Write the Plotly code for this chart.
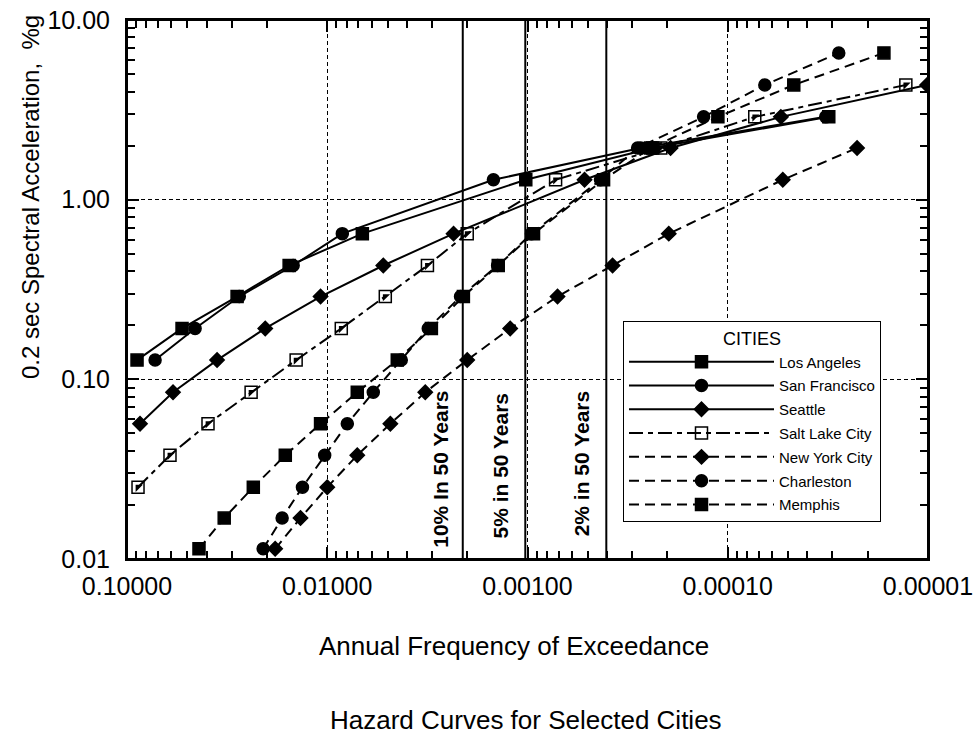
import math
import plotly.graph_objects as go

FONT = "Liberation Sans, Arial, Helvetica, sans-serif"

# ---------------- data (annual frequency of exceedance vs SA, %g) ----------------
la_freq = [0.0891, 0.0531, 0.0282, 0.0155, 0.00668, 0.00102, 0.000237, 0.0000313]
la_sa = [0.128, 0.192, 0.289, 0.430, 0.647, 1.29, 1.94, 2.89]

sf_freq = [0.0724, 0.0457, 0.0275, 0.0148, 0.00841, 0.00148, 0.000272, 0.0000324]
sf_sa = [0.128, 0.192, 0.289, 0.430, 0.647, 1.29, 1.94, 2.89]

sea_freq = [0.0861, 0.0589, 0.0355, 0.0204, 0.0108, 0.00525, 0.00234, 0.000519,
            0.000193, 0.0000543, 0.0000101]
sea_sa = [0.0566, 0.0847, 0.128, 0.192, 0.289, 0.430, 0.647, 1.29, 1.94, 2.89, 4.35]

slc_freq = [0.0881, 0.0610, 0.0394, 0.0240, 0.0143, 0.00851, 0.00513, 0.00316,
            0.00200, 0.000724, 0.000216, 0.0000733, 0.0000129]
slc_sa = [0.0251, 0.0378, 0.0566, 0.0847, 0.128, 0.192, 0.289, 0.430, 0.647,
          1.29, 1.94, 2.89, 4.35]

nyc_freq = [0.0182, 0.0136, 0.0100, 0.00708, 0.00484, 0.00324, 0.00200, 0.00122,
            0.000708, 0.000376, 0.000197, 0.0000531, 0.0000226]
nyc_sa = [0.0114, 0.0169, 0.0251, 0.0378, 0.0566, 0.0847, 0.128, 0.192, 0.289,
          0.430, 0.647, 1.29, 1.94]

chs_freq = [0.0209, 0.0168, 0.0133, 0.0103, 0.00794, 0.00589, 0.00427, 0.00313,
            0.00216, 0.00141, 0.000955, 0.000432, 0.000282, 0.000132, 0.0000653,
            0.0000279]
chs_sa = [0.0114, 0.0169, 0.0251, 0.0378, 0.0566, 0.0847, 0.128, 0.192, 0.289,
          0.430, 0.647, 1.29, 1.94, 2.89, 4.35, 6.56]

mem_freq = [0.0437, 0.0327, 0.0234, 0.0162, 0.0108, 0.00708, 0.00447, 0.00302,
            0.00209, 0.00140, 0.000933, 0.000417, 0.000243, 0.000112, 0.0000468,
            0.0000166]
mem_sa = [0.0114, 0.0169, 0.0251, 0.0378, 0.0566, 0.0847, 0.128, 0.192, 0.289,
          0.430, 0.647, 1.29, 1.94, 2.89, 4.35, 6.56]

return_periods = [475, 975, 2475]
rp_labels = ["10% In 50 Years", "5% in 50 Years", "2% in 50 Years"]

x_tickvals = [0.1, 0.01, 0.001, 0.0001, 0.00001]
x_ticktext = ["0.10000", "0.01000", "0.00100", "0.00010", "0.00001"]
y_tickvals = [0.01, 0.1, 1, 10]
y_ticktext = ["0.01", "0.10", "1.00", "10.00"]

# ---------------- figure ----------------
fig = go.Figure()

SOLID = "solid"
DASH = "10px,6px"
DASHDOT = "14px,5px,5px,5px"

series = [
    ("Los Angeles", la_freq, la_sa, SOLID, "square", 12),
    ("San Francisco", sf_freq, sf_sa, SOLID, "circle", 12),
    ("Seattle", sea_freq, sea_sa, SOLID, "diamond", 11),
    ("Salt Lake City", slc_freq, slc_sa, DASHDOT, "square-open", 12),
    ("New York City", nyc_freq, nyc_sa, DASH, "diamond", 11),
    ("Charleston", chs_freq, chs_sa, DASH, "circle", 12),
    ("Memphis", mem_freq, mem_sa, DASH, "square", 12),
]

for name, xs, ys, dash, sym, size in series:
    fig.add_trace(go.Scatter(
        x=xs, y=ys, name=name, mode="lines+markers",
        line=dict(color="black", width=2, dash=dash),
        marker=dict(symbol=sym, size=size, color="black",
                    line=dict(color="black", width=1.5)),
        legendgroup=name,
    ))
    if name == "Salt Lake City":
        # half-filled square look
        fig.add_trace(go.Scatter(
            x=xs, y=ys, mode="markers", showlegend=False, hoverinfo="skip",
            marker=dict(symbol="triangle-nw", size=8, color="black",
                        line=dict(width=0)),
        ))

# return-period vertical lines
for rp in return_periods:
    fig.add_trace(go.Scatter(
        x=[1 / rp, 1 / rp], y=[0.01, 10], mode="lines", showlegend=False,
        hoverinfo="skip", line=dict(color="black", width=2),
    ))

label_y = [0.167, 0.174, 0.178]
label_shift = [-22, -25, -25]
for rp, lab, yy, sh in zip(return_periods, rp_labels, label_y, label_shift):
    fig.add_annotation(
        x=math.log10(1 / rp), xref="x", y=yy, yref="paper",
        text="<b>" + lab + "</b>", textangle=-90, showarrow=False,
        xshift=sh, xanchor="center", yanchor="middle",
        font=dict(family=FONT, size=21, color="black"),
    )

axis_common = dict(
    type="log", showline=True, linewidth=2, linecolor="black", mirror="ticks",
    ticks="inside", ticklen=12, tickwidth=1.5, tickcolor="black",
    showgrid=True, gridcolor="black", gridwidth=1, griddash="4px,3px",
    tickfont=dict(family=FONT, size=25, color="black"),
    minor=dict(ticks="inside", ticklen=8, tickwidth=1.5, tickcolor="black",
               dtick="D1", showgrid=False),
    zeroline=False, automargin=False, ticklabeloverflow="allow",
)

fig.update_xaxes(range=[-1, -5], tickmode="array", tickvals=x_tickvals,
                 ticktext=x_ticktext, ticklabelstandoff=4, **axis_common)
fig.update_yaxes(range=[-2, 1], tickmode="array", tickvals=y_tickvals,
                 ticktext=y_ticktext, ticklabelstandoff=10, **axis_common)

# plot frame
fig.add_shape(type="rect", xref="paper", yref="paper", x0=0, y0=0, x1=1, y1=1,
              line=dict(color="black", width=2), layer="above")

fig.add_annotation(
    x=-0.121, xref="paper", y=0.6716, yref="paper", textangle=-90,
    xanchor="center", yanchor="middle",
    text="0.2 sec Spectral Acceleration,  %g", showarrow=False,
    font=dict(family=FONT, size=24, color="black"),
)
fig.add_annotation(
    x=(514 - 127) / 801, xref="paper", y=(559 - 646) / 539, yref="paper",
    xanchor="center", yanchor="middle",
    text="Annual Frequency of Exceedance", showarrow=False,
    font=dict(family=FONT, size=26, color="black"),
)
fig.add_annotation(
    x=(526 - 127) / 801, xref="paper", y=(559 - 720) / 539, yref="paper",
    xanchor="center", yanchor="middle",
    text="Hazard Curves for Selected Cities", showarrow=False,
    font=dict(family=FONT, size=26, color="black"),
)

fig.update_layout(
    width=978, height=737,
    margin=dict(l=127, r=50, t=20, b=178, autoexpand=False),
    paper_bgcolor="white", plot_bgcolor="white",
    font=dict(family=FONT, color="black"),
    legend=dict(
        x=(623 - 127) / 801, y=(559 - 321) / 539, xanchor="left", yanchor="top",
        bgcolor="white", bordercolor="black", borderwidth=1,
        font=dict(family=FONT, size=15, color="black"),
        title=dict(text="CITIES", side="top center",
                   font=dict(family=FONT, size=18, color="black")),
        itemwidth=145, traceorder="grouped", tracegroupgap=1.3,
    ),
    showlegend=True,
)

fig.write_html(
    "out.html",
    config={"displayModeBar": False},
    post_script="document.body.style.margin='0';document.body.style.padding='0';"
                "document.body.style.overflow='hidden';",
)
